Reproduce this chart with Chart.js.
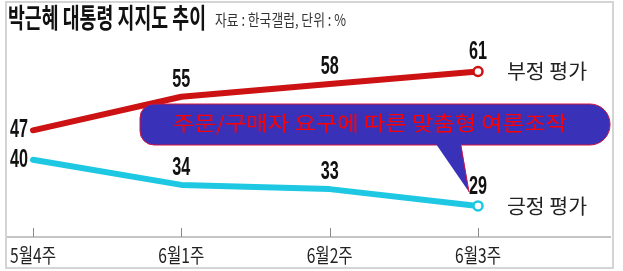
<!DOCTYPE html>
<html>
<head>
<meta charset="utf-8">
<script src="https://cdn.jsdelivr.net/npm/chart.js@4/dist/chart.umd.min.js"></script>
<style>
  html, body { margin: 0; padding: 0; background: #fff; }
  #wrap { position: relative; width: 623px; height: 271px; }
  #frame { position: absolute; left: 5px; top: 1px; width: 609px; height: 268px; box-sizing: border-box; border: 2px solid #d4d4d4; }
  canvas { position: absolute; left: 0; top: 0; }
</style>
</head>
<body>
<div id="wrap">
  <div id="frame"></div>
  <canvas id="chart" width="623" height="271"></canvas>
</div>
<script>
// data
const weeks = ['5월4주', '6월1주', '6월2주', '6월3주'];
const negative = [47, 55, 58, 61];
const positive = [40, 34, 33, 29];
const seriesNames = ['부정 평가', '긍정 평가'];
const titleText = '박근혜 대통령 지지도 추이';
const sourceText = '자료 : 한국갤럽, 단위 : %';
const noteText = '주문/구매자 요구에 따른 맞춤형 여론조작';

const RED = 'rgb(204, 18, 18)';
const CYAN = 'rgb(30, 200, 226)';
const KR = '"Noto Sans CJK KR", "Noto Sans", sans-serif';

// draw text, optionally squeezed to a given width
function txt(ctx, s, x, y, font, color, align, w) {
    ctx.save();
    ctx.font = font;
    ctx.fillStyle = color;
    ctx.textBaseline = 'middle';
    ctx.textAlign = 'left';
    const m = ctx.measureText(s).width;
    const width = w || m;
    const k = width / m;
    let x0 = x;
    if (align === 'center') x0 = x - width / 2;
    if (align === 'right') x0 = x - width;
    ctx.translate(x0, y);
    ctx.scale(k, 1);
    ctx.fillText(s, 0, 0);
    ctx.restore();
}

const decor = {
    id: 'decor',
    beforeDatasetsDraw(chart) {
        const ctx = chart.ctx;
        const area = chart.chartArea;
        const x = chart.scales.x;

        // title
        txt(ctx, titleText, 8, 18, 'bold 27px ' + KR, '#111', 'left', 198);
        txt(ctx, sourceText, 215, 20, '16px ' + KR, '#333', 'left', 131);

        // x axis line, ticks, labels
        ctx.save();
        ctx.strokeStyle = '#8a8a8a';
        ctx.lineWidth = 1.5;
        ctx.beginPath();
        ctx.moveTo(7, area.bottom);
        ctx.lineTo(611, area.bottom);
        weeks.forEach((w, i) => {
            const px = Math.round(x.getPixelForValue(i)) + 0.5;
            ctx.moveTo(px, area.bottom - 9);
            ctx.lineTo(px, area.bottom);
        });
        ctx.lineWidth = 1;
        ctx.stroke();
        ctx.restore();
        weeks.forEach((w, i) => {
            txt(ctx, w, x.getPixelForValue(i), area.bottom + 18, '20px ' + KR, '#222', 'center', 46);
        });
    },
    afterDatasetsDraw(chart) {
        const ctx = chart.ctx;
        const numFont = 'bold 25px "Liberation Sans", Arial, sans-serif';

        chart.data.datasets.forEach((ds, d) => {
            const pts = chart.getDatasetMeta(d).data;
            ds.data.forEach((v, i) => {
                const p = pts[i];
                if (i === 0) {
                    txt(ctx, String(v), p.x - 5, p.y, numFont, '#111', 'right', 18);
                } else {
                    const up = i === ds.data.length - 1 ? 19 : 17;
                    txt(ctx, String(v), p.x, p.y - up, numFont, '#111', 'center', 18);
                }
            });
            const last = pts[pts.length - 1];
            txt(ctx, seriesNames[d], last.x + 29, last.y, '20px ' + KR, '#222', 'left', 80);
        });

        // speech bubble note
        ctx.save();
        ctx.fillStyle = 'rgb(57, 50, 185)';
        ctx.strokeStyle = 'rgb(210, 20, 60)';
        ctx.lineWidth = 1;
        ctx.beginPath();
        ctx.roundRect(140, 104, 470, 41, [14, 20, 20, 14]);
        ctx.fill();
        ctx.stroke();
        ctx.beginPath();
        ctx.moveTo(436, 144);
        ctx.lineTo(469, 192);
        ctx.lineTo(461, 144);
        ctx.closePath();
        ctx.fill();
        ctx.beginPath();
        ctx.moveTo(469, 192);
        ctx.lineTo(461, 146);
        ctx.stroke();
        ctx.restore();
        txt(ctx, noteText, 370, 123, '20px ' + KR, '#ff0000', 'center', 394);
    }
};

new Chart(document.getElementById('chart'), {
    type: 'line',
    data: {
        labels: weeks,
        datasets: [
            {
                label: seriesNames[0],
                data: negative,
                borderColor: RED,
                borderWidth: 6,
                borderCapStyle: 'round',
                borderJoinStyle: 'round',
                pointRadius: [0, 0, 0, 4.5],
                pointBackgroundColor: '#fff',
                pointBorderColor: RED,
                pointBorderWidth: 2.5,
                tension: 0
            },
            {
                label: seriesNames[1],
                data: positive,
                borderColor: CYAN,
                borderWidth: 6,
                borderCapStyle: 'round',
                borderJoinStyle: 'round',
                pointRadius: [0, 0, 0, 4.5],
                pointBackgroundColor: '#fff',
                pointBorderColor: CYAN,
                pointBorderWidth: 2.5,
                tension: 0
            }
        ]
    },
    options: {
        responsive: false,
        animation: false,
        devicePixelRatio: 1,
        layout: { padding: { left: 33, right: 145, top: 40, bottom: 34 } },
        plugins: {
            legend: { display: false },
            tooltip: { enabled: false },
            title: { display: false }
        },
        scales: {
            x: { display: false, offset: false },
            y: { display: false, min: 21.6, max: 68.5 }
        }
    },
    plugins: [decor]
});
</script>
</body>
</html>
